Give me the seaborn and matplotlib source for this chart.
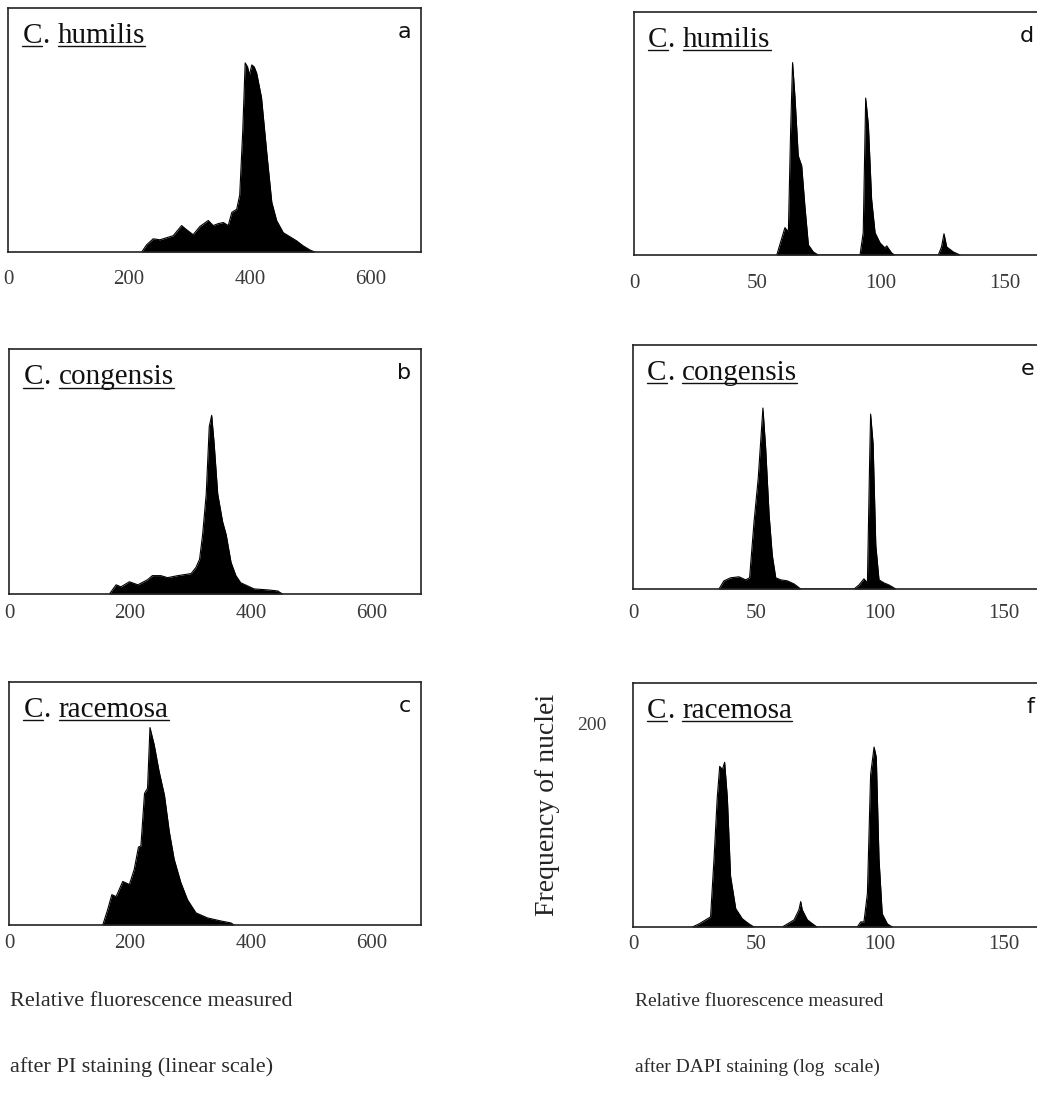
import numpy as np
import pandas as pd
import matplotlib
matplotlib.use("Agg")
import matplotlib.pyplot as plt
from matplotlib.lines import Line2D
import seaborn as sns

# ---- data: (relative fluorescence channel, nuclei count) ----
# PI staining, linear scale
humilis_pi_x = [221, 229, 240, 251, 262, 273, 287, 295, 306, 317, 331, 339, 348, 356, 364,
                370, 378, 383, 388, 392, 396, 399, 403, 407, 411, 419, 428, 436, 444, 455,
                466, 477, 488, 499, 507]
humilis_pi_y = [0, 7, 13, 12, 14, 16, 26, 22, 17, 25, 31, 26, 28, 29, 26,
                39, 42, 56, 119, 186, 182, 174, 184, 182, 176, 152, 96, 49, 31, 19,
                15, 11, 6, 2, 0]

congensis_pi_x = [166, 177, 185, 199, 213, 229, 237, 251, 262, 279, 290, 301, 309, 315, 320,
                  326, 331, 335, 339, 345, 353, 359, 367, 375, 383, 394, 405, 428, 444, 452]
congensis_pi_y = [0, 9, 7, 12, 9, 14, 18, 18, 16, 18, 19, 20, 26, 34, 58,
                  98, 164, 175, 148, 98, 71, 58, 31, 18, 11, 8, 5, 4, 3, 0]

racemosa_pi_x = [155, 163, 170, 177, 188, 199, 207, 214, 218, 224, 229, 233, 240, 248, 257,
                 265, 273, 284, 295, 309, 328, 350, 367, 372]
racemosa_pi_y = [0, 15, 30, 28, 43, 40, 55, 77, 78, 130, 135, 195, 178, 152, 128,
                 92, 65, 42, 25, 12, 7, 4, 2, 0]

# DAPI staining, log scale
humilis_dapi_x = [57.8, 61.1, 62.5, 63.4, 64.2, 65.2, 66.5, 67.9, 69.2, 70.6, 72.6, 74.6,
                  91.5, 92.8, 93.8, 94.9, 96.2, 97.6, 99.6, 101.6, 102.3, 104.3, 105.5,
                  123.2, 124.5, 125.5, 126.6, 129.3, 132.0]
humilis_dapi_y = [0, 27, 23, 122, 190, 155, 98, 88, 48, 10, 3, 0,
                  0, 22, 155, 128, 55, 22, 12, 7, 9, 2, 0,
                  0, 8, 21, 8, 3, 0]

congensis_dapi_x = [34.8, 36.8, 39.5, 42.9, 45.6, 47.2, 49.0, 50.7, 51.8, 52.6, 53.7, 55.1,
                    56.4, 57.8, 59.8, 62.5, 65.2, 67.9,
                    89.5, 91.5, 93.5, 94.9, 95.8, 96.2, 97.2, 98.3, 99.6, 101.6, 103.6, 106.4]
congensis_dapi_y = [0, 8, 11, 12, 9, 11, 66, 109, 149, 178, 139, 73,
                    33, 11, 9, 8, 5, 0,
                    0, 4, 10, 6, 126, 172, 143, 43, 9, 6, 4, 0]

racemosa_dapi_x = [24.0, 26.7, 29.4, 31.4, 32.8, 34.1, 35.1, 36.2, 37.1, 38.2, 39.5, 41.6,
                   44.3, 47.0, 49.0,
                   60.4, 62.5, 65.2, 67.2, 67.9, 68.5, 70.6, 73.3, 74.5,
                   90.8, 92.2, 93.5, 94.9, 96.2, 97.6, 98.5, 99.6, 100.9, 103.0, 105.0]
racemosa_dapi_y = [0, 3, 7, 10, 67, 127, 158, 155, 162, 127, 50, 18,
                   8, 3, 0,
                   0, 3, 7, 17, 25, 17, 7, 2, 0,
                   0, 5, 5, 33, 150, 177, 167, 67, 13, 3, 0]

species = ["humilis", "congensis", "racemosa"]
letters_pi = ["a", "b", "c"]
letters_dapi = ["d", "e", "f"]
pi_ticks = [0, 200, 400, 600]
dapi_ticks = [0, 50, 100, 150]
y_ticks = [200]

W, H = 1037, 1111
SERIF = ["Liberation Serif", "DejaVu Serif"]

sns.set_theme(style="white")
plt.rcParams["font.family"] = SERIF

fig = plt.figure(figsize=(W / 100, H / 100), dpi=100)


def px_axes(left, top, right, bottom):
    return fig.add_axes([left / W, 1 - bottom / H, (right - left) / W, (bottom - top) / H])


def draw_hist(ax, x, y):
    df = pd.DataFrame({"channel": x, "count": y})
    sns.lineplot(data=df, x="channel", y="count", ax=ax, color="black", lw=0.8)
    ax.fill_between(df["channel"], df["count"], color="black", lw=0)
    ax.set_xlabel("")
    ax.set_ylabel("")


def style_axes(ax, xmax, ticks, pad, show_right=True):
    ax.set_xlim(0, xmax)
    ax.set_ylim(0, 240)
    ax.set_xticks(ticks)
    ax.set_xticklabels([str(t) for t in ticks])
    ax.set_yticks([])
    ax.tick_params(axis="x", length=0, pad=pad, labelsize=15, labelcolor="#3a3a3a")
    for side, sp in ax.spines.items():
        sp.set_color("#222222")
        sp.set_linewidth(1.2)
    ax.spines["right"].set_visible(show_right)


underlines = []


def species_label(ax, name):
    kw = dict(fontsize=21, family=SERIF, color="#111111")
    t1 = ax.text(0.035, 0.857, "C", transform=ax.transAxes, va="baseline", ha="left", **kw)
    t2 = ax.annotate(".", xy=(1, 0), xycoords=t1, va="bottom", ha="left", **kw)
    t3 = ax.annotate(name, xy=(1, 0), xycoords=t2, xytext=(6, 0),
                     textcoords="offset points", va="bottom", ha="left", **kw)
    underlines.extend([t1, t3])


def panel_letter(ax, letter, xfrac):
    ax.text(xfrac, 1 - 24 / 244, letter, transform=ax.transAxes, ha="right", va="center",
            fontsize=16, family=["DejaVu Sans"], color="#111111")


# left column: PI, linear scale
pi_data = [(humilis_pi_x, humilis_pi_y), (congensis_pi_x, congensis_pi_y),
           (racemosa_pi_x, racemosa_pi_y)]
pi_boxes = [(8, 8, 421, 252), (9, 349, 421, 594), (9, 682, 421, 925)]
pi_pads = [13, 7.5, 6.5]
for (x, y), box, pad, name, let in zip(pi_data, pi_boxes, pi_pads, species, letters_pi):
    ax = px_axes(*box)
    draw_hist(ax, x, y)
    style_axes(ax, (box[2] - box[0]) / 0.605, pi_ticks, pad)
    species_label(ax, name)
    panel_letter(ax, let, 1 - 10 / 413)

# right column: DAPI, log scale
dapi_data = [(humilis_dapi_x, humilis_dapi_y), (congensis_dapi_x, congensis_dapi_y),
             (racemosa_dapi_x, racemosa_dapi_y)]
dapi_boxes = [(634, 12, 1037, 255), (633, 345, 1037, 589), (633, 683, 1037, 927)]
dapi_pads = [13.5, 11, 6]
for (x, y), box, pad, name, let in zip(dapi_data, dapi_boxes, dapi_pads, species, letters_dapi):
    ax = px_axes(*box)
    draw_hist(ax, x, y)
    style_axes(ax, (box[2] - box[0]) / 2.47, dapi_ticks, pad, show_right=False)
    species_label(ax, name)
    panel_letter(ax, let, 1 - 3 / 404)
    last_ax = ax

last_ax.set_yticks(y_ticks)
last_ax.set_yticklabels([str(t) for t in y_ticks])
last_ax.tick_params(axis="y", length=0, pad=19, labelsize=14, labelcolor="#3a3a3a")

fig.text(548 / W, 1 - 805 / H, "Frequency of nuclei", rotation=90, ha="center", va="center",
         fontsize=20, color="#222222")

for xpx, size, lines in [(10, 16, ["Relative fluorescence measured", "after PI staining (linear scale)"]),
                         (635, 14, ["Relative fluorescence measured", "after DAPI staining (log  scale)"])]:
    fig.text(xpx / W, 1 - 1001 / H, lines[0], ha="left", va="center", fontsize=size, color="#2a2a2a")
    fig.text(xpx / W, 1 - 1067 / H, lines[1], ha="left", va="center", fontsize=size, color="#2a2a2a")

# underline "C" and the species names
fig.canvas.draw()
inv = fig.transFigure.inverted()
for t in underlines:
    bb = t.get_window_extent()
    (x0, y0), (x1, _) = inv.transform([(bb.x0, bb.y0 + 2.5), (bb.x1, bb.y0)])
    fig.add_artist(Line2D([x0, x1], [y0, y0], transform=fig.transFigure, color="#111111", lw=1.0))

fig.savefig("out.png", dpi=100, facecolor="white")
